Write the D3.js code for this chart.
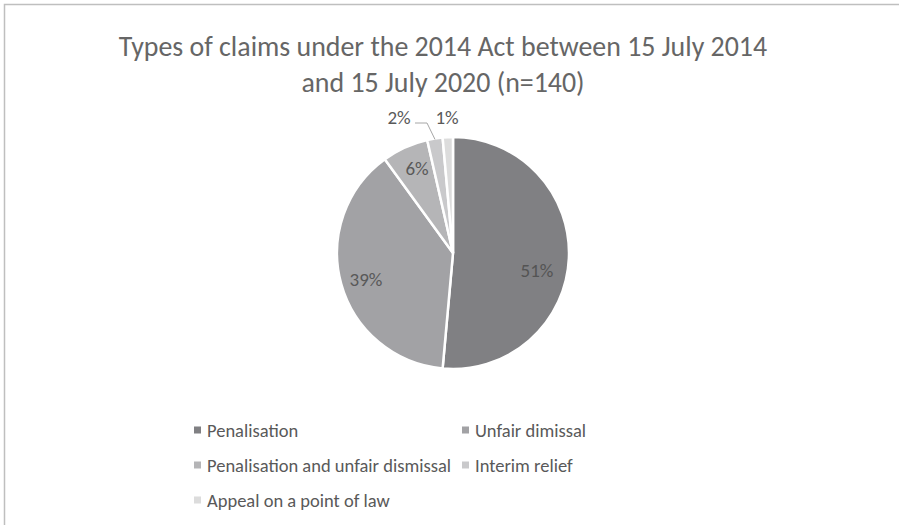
<!DOCTYPE html>
<html>
<head>
<meta charset="utf-8">
<script src="https://cdn.jsdelivr.net/npm/d3@7"></script>
<style>
  body { margin: 0; background: #fff; }
  svg { font-family: Carlito, Lato, "Open Sans", sans-serif; }
</style>
</head>
<body>
<svg id="chart"></svg>
<script>
var categories = ["Penalisation", "Unfair dimissal", "Penalisation and unfair dismissal", "Interim relief", "Appeal on a point of law"];
var counts = [72, 54, 9, 3, 2];
var labels = ["51%", "39%", "6%", "2%", "1%"];
var colors = ["#808083", "#a2a2a5", "#b5b5b7", "#c9c9cb", "#dcdcdc"];
var titleLines = ["Types of claims under the 2014 Act between 15 July 2014", "and 15 July 2020 (n=140)"];

var width = 899, height = 525;
var svg = d3.select("#chart").attr("width", width).attr("height", height);

// frame
svg.append("path")
    .attr("d", `M4.5,${height} L4.5,4.5 L${width},4.5`)
    .attr("fill", "none")
    .attr("stroke", "#bfbfbf")
    .attr("stroke-width", 1.5);

svg.append("g").selectAll("text")
    .data(titleLines)
    .enter()
    .append("text")
    .attr("x", 443)
    .attr("y", function(d, i) { return 56 + i * 36; })
    .attr("text-anchor", "middle")
    .attr("fill", "#666666")
    .attr("font-size", 27.9)
    .attr("font-weight", 300)
    .text(function(d) { return d; });

var cx = 453, cy = 253, r = 116;
var data = categories.map(function(c, i) { return {name: c, value: counts[i], label: labels[i], color: colors[i]}; });
var pie = d3.pie().sort(null).value(function(d) { return d.value; });
var arcs = pie(data);
var arc = d3.arc().innerRadius(0).outerRadius(r);

var g = svg.append("g").attr("transform", `translate(${cx},${cy})`);
g.selectAll("path")
    .data(arcs)
    .enter()
    .append("path")
    .attr("d", arc)
    .attr("fill", function(d) { return d.data.color; })
    .attr("stroke", "#fff")
    .attr("stroke-width", 2.5);

// label positions (relative to centre)
var labelPos = [[84, 17], [-87, 26], [-36, -85], [-54, -136], [-6, -136]];
g.selectAll("text.lbl")
    .data(arcs)
    .enter()
    .append("text")
    .attr("class", "lbl")
    .attr("x", function(d, i) { return labelPos[i][0]; })
    .attr("y", function(d, i) { return labelPos[i][1]; })
    .attr("text-anchor", "middle")
    .attr("dominant-baseline", "central")
    .attr("fill", function(d, i) { return i == 0 ? "#545454" : "#595959"; })
    .attr("font-size", 19)
    .text(function(d) { return d.data.label; });

// leader line for 2%
var a2 = arcs[3];
var mid = (a2.startAngle + a2.endAngle) / 2;
var px = Math.sin(mid) * (r - 1), py = -Math.cos(mid) * (r - 1);
g.append("polyline")
    .attr("points", [[-38, -130], [-26, -130], [px, py]].map(function(p) { return p.join(","); }).join(" "))
    .attr("fill", "none")
    .attr("stroke", "#a6a6a6")
    .attr("stroke-width", 1);

// legend
var legendPos = [[194, 430], [462, 430], [194, 465], [462, 465], [194, 500]];
var lg = svg.append("g").selectAll("g")
    .data(data)
    .enter()
    .append("g")
    .attr("transform", function(d, i) { return `translate(${legendPos[i][0]},${legendPos[i][1]})`; });
lg.append("rect")
    .attr("x", 0).attr("y", -3.5)
    .attr("width", 7).attr("height", 7)
    .attr("fill", function(d) { return d.color; });
lg.append("text")
    .attr("x", 13)
    .attr("y", 0)
    .attr("dominant-baseline", "central")
    .attr("fill", "#595959")
    .attr("font-size", 18.5)
    .text(function(d) { return d.name; });
</script>
</body>
</html>
